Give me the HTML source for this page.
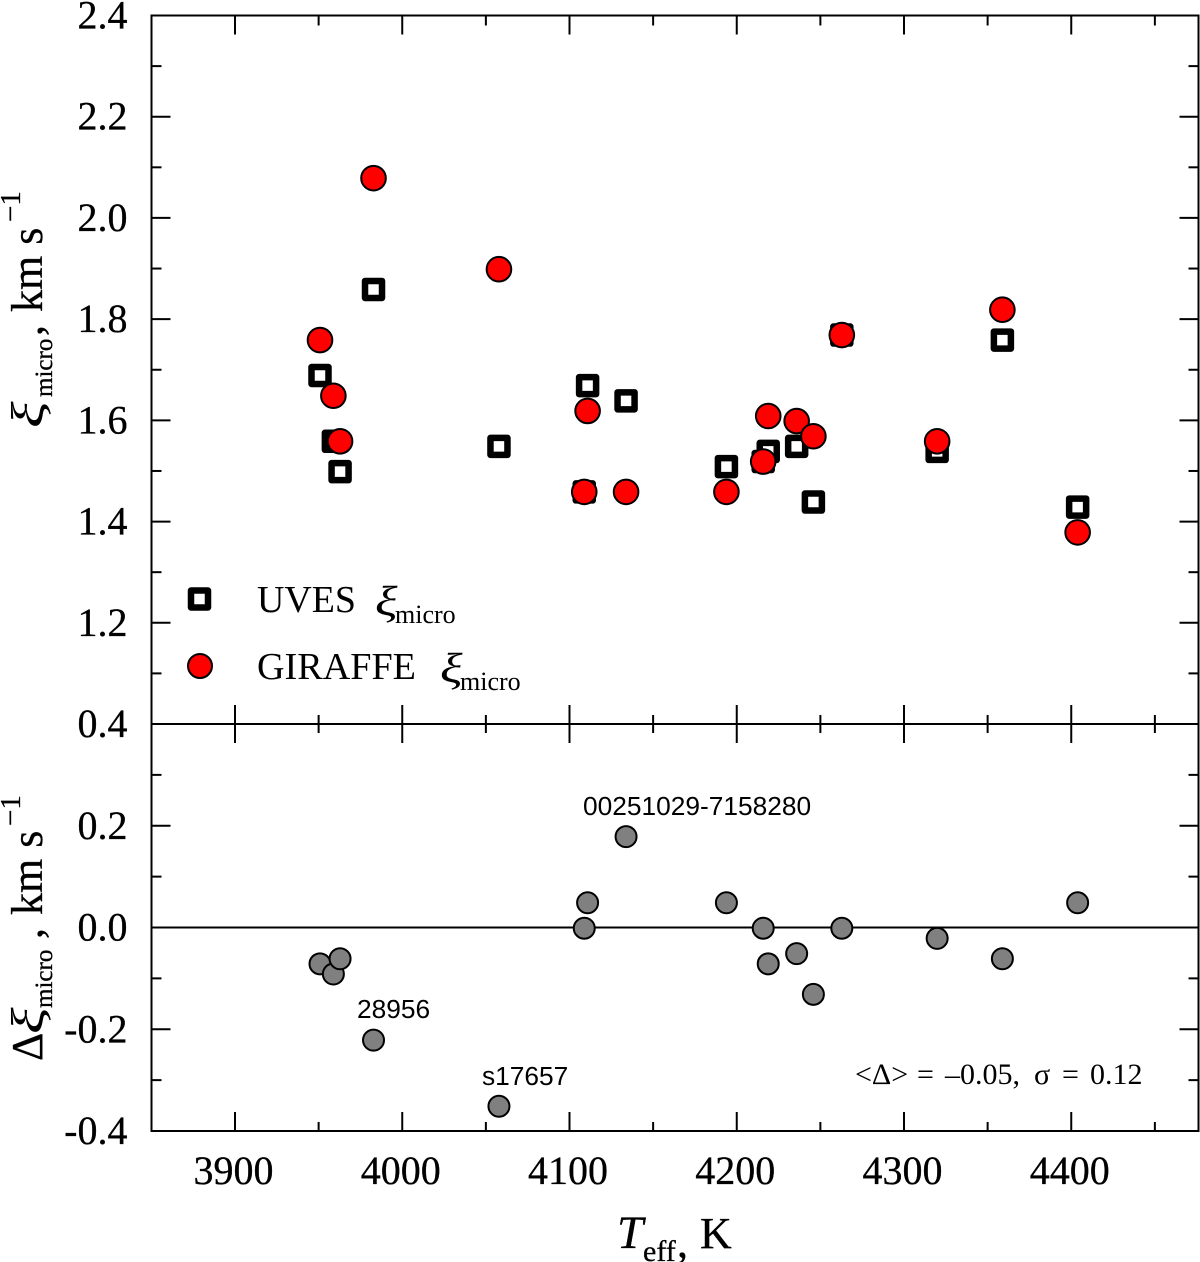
<!DOCTYPE html>
<html>
<head>
<meta charset="utf-8">
<title>Microturbulence chart</title>
<style>
html,body{margin:0;padding:0;background:#fff;}
svg{display:block;}
text{font-family:"Liberation Serif",serif;fill:#000;}
.sans{font-family:"Liberation Sans",sans-serif;}
.heavy{stroke:#000;stroke-width:0.3px;}
.thin{stroke:none;}
</style>
</head>
<body>
<svg id="chart" width="1200" height="1262" viewBox="0 0 1200 1262" xmlns="http://www.w3.org/2000/svg">
  <rect x="0" y="0" width="1200" height="1262" fill="#fff"/>
  <g id="ticks"></g>
  <g id="frames"></g>
  <g id="labels"></g>
  <g id="marks"></g>

  <g class="heavy">
    <text class="thin" transform="translate(43,428) rotate(-90) scale(1.35,1)" font-size="46" font-style="italic">ξ</text>
    <text transform="translate(52,397) rotate(-90)" font-size="25">micro</text>
    <text transform="translate(42,336) rotate(-90)" font-size="44">,</text>
    <text transform="translate(42,312) rotate(-90)" font-size="44">km s</text>
    <text transform="translate(20,222) rotate(-90)" font-size="29">−1</text>
  </g>
  <g class="heavy">
    <text transform="translate(42,1061) rotate(-90)" font-size="44">Δ</text>
    <text class="thin" transform="translate(43,1034) rotate(-90) scale(1.35,1)" font-size="46" font-style="italic">ξ</text>
    <text transform="translate(52,1008) rotate(-90)" font-size="25">micro</text>
    <text transform="translate(42,939) rotate(-90)" font-size="44">,</text>
    <text transform="translate(42,915) rotate(-90)" font-size="44">km s</text>
    <text transform="translate(20,826) rotate(-90)" font-size="29">−1</text>
  </g>
  <g class="heavy">
    <text x="617" y="1248" font-size="47" font-style="italic">T</text>
    <text x="643" y="1261" font-size="30">eff</text>
    <text x="677" y="1257" font-size="44">,</text>
    <text x="700" y="1248" font-size="44">K</text>
  </g>

  <g>
    <rect x="191" y="590.5" width="17" height="17" fill="#fff" stroke="#000" stroke-width="6.5" stroke-linejoin="round"/>
    <text x="257" y="612" font-size="38" textLength="99" lengthAdjust="spacingAndGlyphs">UVES</text>
    <text transform="translate(375,615) scale(1.25,1)" font-size="42" font-style="italic">ξ</text>
    <text x="395" y="623" font-size="26">micro</text>
    <circle cx="200" cy="666" r="12" fill="#ff0000" stroke="#000" stroke-width="2"/>
    <text x="257" y="679" font-size="38" textLength="159" lengthAdjust="spacingAndGlyphs">GIRAFFE</text>
    <text transform="translate(440,682) scale(1.25,1)" font-size="42" font-style="italic">ξ</text>
    <text x="460" y="690" font-size="26">micro</text>
  </g>

  <text class="sans" x="583" y="815" font-size="26.3">00251029-7158280</text>
  <text class="sans" x="357" y="1018" font-size="26.3">28956</text>
  <text class="sans" x="482" y="1085" font-size="26.3">s17657</text>
  <text y="1084" font-size="30"><tspan x="855">&lt;Δ&gt;</tspan><tspan x="917">=</tspan><tspan x="945">–0.05,</tspan><tspan x="1034">σ</tspan><tspan x="1062">=</tspan><tspan x="1090">0.12</tspan></text>
</svg>
<script>
var teff      = [3951, 3959, 3963, 3983, 4058, 4109, 4111, 4134, 4194, 4216, 4219, 4236, 4246, 4263, 4320, 4359, 4404];
var uvesMicro = [1.69, 1.56, 1.50, 1.86, 1.55, 1.46, 1.67, 1.64, 1.51, 1.52, 1.54, 1.55, 1.44, 1.77, 1.54, 1.76, 1.43];
var girMicro  = [1.76, 1.65, 1.56, 2.08, 1.90, 1.46, 1.62, 1.46, 1.46, 1.52, 1.61, 1.60, 1.57, 1.77, 1.56, 1.82, 1.38];
var deltaMicro= [-0.07, -0.09, -0.06, -0.22, -0.35, 0.00, 0.05, 0.18, 0.05, 0.00, -0.07, -0.05, -0.13, 0.00, -0.02, -0.06, 0.05];
var xTickValues = [3900, 4000, 4100, 4200, 4300, 4400];
var xMinorValues = [3950, 4050, 4150, 4250, 4350, 4450];
var topTickValues = [2.4, 2.2, 2.0, 1.8, 1.6, 1.4, 1.2];
var topMinorValues = [2.3, 2.1, 1.9, 1.7, 1.5, 1.3, 1.1];
var bottomTickValues = [0.4, 0.2, 0.0, -0.2, -0.4];
var bottomMinorValues = [0.3, 0.1, -0.1, -0.3];

var NS = 'http://www.w3.org/2000/svg';
var LEFT = 151.5, RIGHT = 1198.5, TOP = 15.5, MID = 724, BOTTOM = 1131;
var MARK_DX = -0.3, MARK_DY = 0.7;

function xPos(t) { return 235 + (t - 3900) * 1.6725; }
function yTop(v) { return MID - (v - 1.0) * (MID - TOP) / 1.4; }
function yBottom(v) { return MID + (0.4 - v) * (BOTTOM - MID) / 0.8; }

function make(parent, tag, attrs, text) {
  var el = document.createElementNS(NS, tag);
  for (var k in attrs) { el.setAttribute(k, attrs[k]); }
  if (text !== undefined) { el.textContent = text; }
  parent.appendChild(el);
  return el;
}
function line(parent, x1, y1, x2, y2, w, name) {
  var el = make(parent, 'line', { x1: x1, y1: y1, x2: x2, y2: y2, stroke: '#000', 'stroke-width': w });
  
  
  return el;
}

var ticks = document.getElementById('ticks');
var frames = document.getElementById('frames');
var labels = document.getElementById('labels');
var marks = document.getElementById('marks');

xTickValues.forEach(function (t) {
  var x = xPos(t);
  line(ticks, x, TOP, x, TOP + 19, 2, 'x-major-tick-top');
  line(ticks, x, MID - 19, x, MID + 19, 2, 'x-major-tick-middle');
  line(ticks, x, BOTTOM - 19, x, BOTTOM, 2, 'x-major-tick-bottom');
  var lab = make(labels, 'text', { x: x - 1.5, y: 1184, 'font-size': 40, 'text-anchor': 'middle', 'class': 'heavy' }, String(t));
  
  
});
xMinorValues.forEach(function (t) {
  var x = xPos(t);
  line(ticks, x, TOP, x, TOP + 10, 2, 'x-minor-tick-top');
  line(ticks, x, MID - 9, x, MID + 9, 2, 'x-minor-tick-middle');
  line(ticks, x, BOTTOM - 9, x, BOTTOM, 2, 'x-minor-tick-bottom');
});
topTickValues.forEach(function (v) {
  var y = yTop(v);
  line(ticks, LEFT, y, LEFT + 19, y, 2, 'y-top-major-tick-left');
  line(ticks, RIGHT - 19, y, RIGHT, y, 2, 'y-top-major-tick-right');
  var lab = make(labels, 'text', { x: 127.5, y: y + 13, 'font-size': 40, 'text-anchor': 'end', 'class': 'heavy' }, v.toFixed(1));
  
  
});
topMinorValues.forEach(function (v) {
  var y = yTop(v);
  line(ticks, LEFT, y, LEFT + 10, y, 2, 'y-top-minor-tick-left');
  line(ticks, RIGHT - 10, y, RIGHT, y, 2, 'y-top-minor-tick-right');
});
bottomTickValues.forEach(function (v) {
  var y = yBottom(v);
  line(ticks, LEFT, y, LEFT + 19, y, 2, 'y-bottom-major-tick-left');
  line(ticks, RIGHT - 19, y, RIGHT, y, 2, 'y-bottom-major-tick-right');
  var lab = make(labels, 'text', { x: 127.5, y: y + 13, 'font-size': 40, 'text-anchor': 'end', 'class': 'heavy' }, v.toFixed(1));
  
  
});
bottomMinorValues.forEach(function (v) {
  var y = yBottom(v);
  line(ticks, LEFT, y, LEFT + 10, y, 2, 'y-bottom-minor-tick-left');
  line(ticks, RIGHT - 10, y, RIGHT, y, 2, 'y-bottom-minor-tick-right');
});

var frame = make(frames, 'rect', { x: LEFT, y: TOP, width: RIGHT - LEFT, height: BOTTOM - TOP, fill: 'none', stroke: '#000', 'stroke-width': 2 });


line(frames, LEFT, MID, RIGHT, MID, 2, 'panel-divider');
line(frames, LEFT, yBottom(0), RIGHT, yBottom(0), 2, 'zero-line');

teff.forEach(function (t, i) {
  var sq = make(marks, 'rect', { x: xPos(t) + MARK_DX - 8.5, y: yTop(uvesMicro[i]) + MARK_DY - 8.5, width: 17, height: 17, fill: '#fff', stroke: '#000', 'stroke-width': 6.5, 'stroke-linejoin': 'round' });
  
  
});
teff.forEach(function (t, i) {
  var c = make(marks, 'circle', { cx: xPos(t) + MARK_DX, cy: yTop(girMicro[i]) + MARK_DY, r: 12.3, fill: '#ff0000', stroke: '#000', 'stroke-width': 2 });
  
  
});
teff.forEach(function (t, i) {
  var d = make(marks, 'circle', { cx: xPos(t) + MARK_DX, cy: yBottom(deltaMicro[i]) + MARK_DY, r: 10.5, fill: '#808080', stroke: '#000', 'stroke-width': 2 });
  
  
});
</script>
</body>
</html>
